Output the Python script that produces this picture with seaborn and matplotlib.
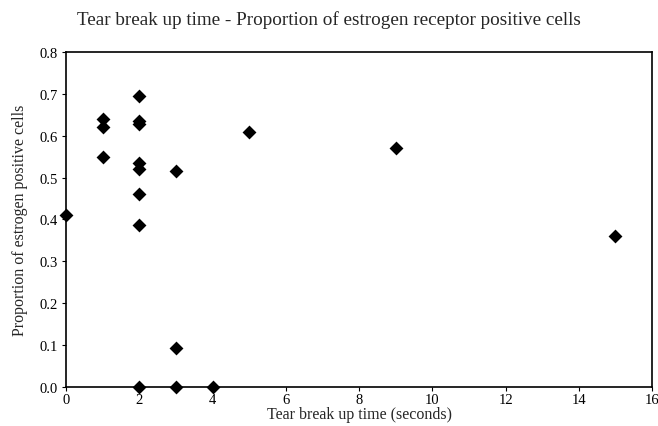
import matplotlib
matplotlib.use("Agg")
import matplotlib.pyplot as plt
import seaborn as sns
import pandas as pd

tbut_seconds = [0, 1, 1, 1, 2, 2, 2, 2, 2, 2, 2, 2, 3, 3, 3, 4, 5, 9, 15]
er_positive = [0.41, 0.64, 0.62, 0.55, 0.695, 0.635, 0.628, 0.535, 0.52, 0.46, 0.388, 0.0,
               0.515, 0.093, 0.0, 0.0, 0.61, 0.57, 0.36]
x_ticks = [0, 2, 4, 6, 8, 10, 12, 14, 16]
y_ticks = [0.0, 0.1, 0.2, 0.3, 0.4, 0.5, 0.6, 0.7, 0.8]

df = pd.DataFrame({"tbut": tbut_seconds, "er": er_positive})

sns.set_style("ticks")
plt.rcParams["font.family"] = ["Liberation Serif", "DejaVu Serif"]

fig = plt.figure(figsize=(6.58, 4.27), dpi=100)
ax = fig.add_axes([0.1003, 0.0913, 0.8907, 0.7847])
sns.scatterplot(data=df, x="tbut", y="er", marker="D", color="black", s=50,
                edgecolor="black", linewidth=0, ax=ax, clip_on=False, zorder=3)
ax.set_xlim(0, 16)
ax.set_ylim(0, 0.8)
ax.set_xticks(x_ticks)
ax.set_xticklabels([str(t) for t in x_ticks])
ax.set_yticks(y_ticks)
ax.set_yticklabels([f"{t:.1f}" for t in y_ticks])
ax.tick_params(labelsize=10.5, length=3, width=0.8, colors="black")
ax.tick_params(axis="x", pad=1.5)
ax.tick_params(axis="y", pad=3)
for s in ax.spines.values():
    s.set_visible(True)
    s.set_color("black")
    s.set_linewidth(1.2)
ax.set_xlabel("Tear break up time (seconds)", fontsize=11.5, labelpad=0)
ax.set_ylabel("Proportion of estrogen positive cells", fontsize=11.5, labelpad=8)
fig.suptitle("Tear break up time - Proportion of estrogen receptor positive cells",
             fontsize=13.8, y=0.975)
fig.savefig("out.png", dpi=100)
